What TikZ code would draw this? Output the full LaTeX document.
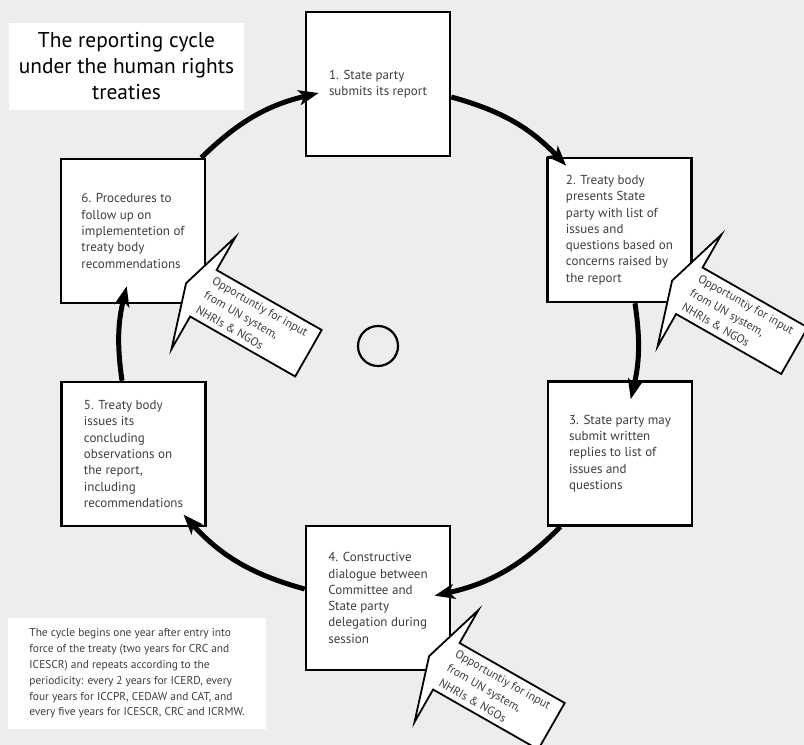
\documentclass[tikz,border=0pt]{standalone}
\usepackage{fontspec}
\setmainfont{PT Sans}
\usetikzlibrary{arrows.meta}

\definecolor{panel}{RGB}{236,237,236}
\definecolor{inktext}{RGB}{62,62,62}

\begin{document}
\begin{tikzpicture}[x=1pt,y=1pt,>={Stealth[length=20pt,width=15pt,inset=5pt]},
  every node/.style={font=\fontsize{13}{16.3}\selectfont,align=left,text=inktext},
  stage/.style={draw,line width=2.6pt,fill=white,minimum width=144pt,minimum height=144pt,inner sep=0pt},
  cycarrow/.style={->,line width=5pt},
  callout/.pic={
    \draw[line width=1.8pt,fill=white] (0,0) -- (0,-53.5) -- (-121,-53.5) -- (-121,-91)
      -- (-141,-26.5) -- (-121,38) -- (-121,0) -- cycle;
    \node[anchor=west,transform shape,inner sep=0pt,font=\fontsize{11.8}{16.5}\selectfont] (txt) at (-119,-26.75)
      {Opportuntiy for input\\from UN system,\\NHRIs \& NGOs};
  }]
\useasboundingbox (0,0) rectangle (804,745);
\clip (0,0) rectangle (804,745);
\fill[panel] (0,0) rectangle (804,745);

% title and note
\node[fill=white,minimum width=235pt,minimum height=87pt,align=center,text=black,
  font=\fontsize{21.4}{26}\selectfont] (title) at (126.5,678.5)
  {The reporting cycle\\under the human rights\\treaties};
\node[fill=white,minimum width=258pt,minimum height=111pt,font=\fontsize{11.4}{15.8}\selectfont] (note) at (137,71.5)
  {The cycle begins one year after entry into\\force of the treaty (two years for CRC and\\ICESCR) and repeats according to the\\periodicity: every 2 years for ICERD, every\\four years for ICCPR, CEDAW and CAT, and\\every five years for ICESCR, CRC and ICRMW.};

% the six stages
\node[stage] (b1) at (378,661) {1. State party\\submits its report};
\node[stage] (b2) at (619.5,515) {2. Treaty body\\presents State\\party with list of\\issues and\\questions based on\\concerns raised by\\the report};
\node[stage] (b3) at (620,291.5) {3. State party may\\submit written\\replies to list of\\issues and\\questions};
\node[stage] (b4) at (378,147) {4. Constructive\\dialogue between\\Committee and\\State party\\delegation during\\session};
\node[stage] (b5) at (133.5,291) {5. Treaty body\\issues its\\concluding\\observations on\\the report,\\including\\recommendations};
\node[stage] (b6) at (133,514) {6. Procedures to\\follow up on\\implementetion of\\treaty body\\recommendations};
\node[draw,circle,line width=2.2pt,minimum size=40pt,inner sep=0pt] (hub) at (378,399) {};

% inputs
\pic[rotate=-29.7] (inA) at (321.7,415) {callout};
\pic[rotate=-29.7] (inB) at (807.7,417.5) {callout};
\pic[rotate=-29.7] (inC) at (564.7,42) {callout};

% cycle
\draw[cycarrow] ([xshift=-5]b6.north east) to[bend left=15.5] ([shift={(14,-9)}]b1.west);
\draw[cycarrow] ([yshift=-13]b1.east) to[bend left=15.5] ([shift={(20,-9)}]b2.north west);
\draw[cycarrow] ([xshift=15.5]b2.south) to[bend left=10.9] ([shift={(10.7,-19)}]b3.north);
\draw[cycarrow] ([xshift=13.7]b3.south west) to[bend left=16.3] ([shift={(-16.7,2.3)}]b4.east);
\draw[cycarrow] ([yshift=9]b4.west) to[bend left=16.2] ([shift={(-23.3,12.7)}]b5.south east);
\draw[cycarrow] ([xshift=-11.5]b5.north) to[bend left=10.9] ([shift={(-6.3,18)}]b6.south);
\end{tikzpicture}
\end{document}
